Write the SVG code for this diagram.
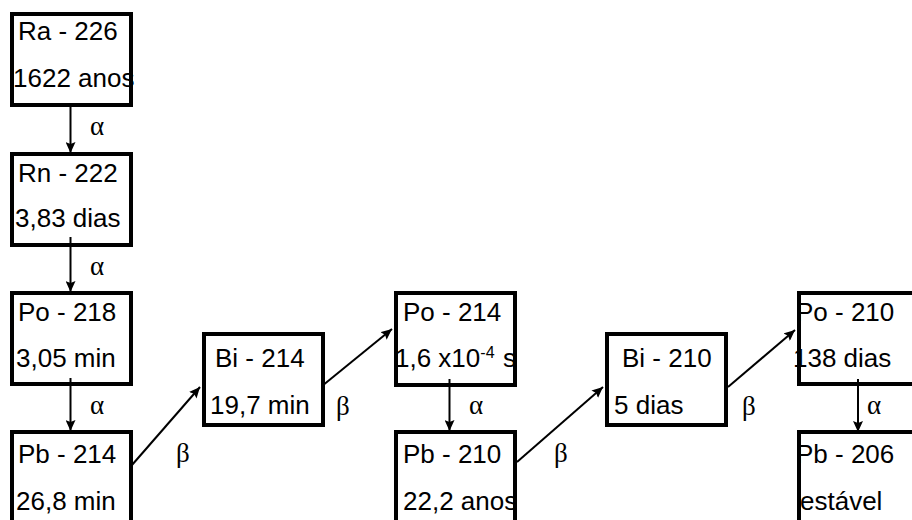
<svg xmlns="http://www.w3.org/2000/svg" width="912" height="520" viewBox="0 0 912 520">
  <style>
    .bg { fill: #fff; stroke: none; }
    .frame { fill: none; stroke: #000; stroke-width: 4; }
    .lbl { font-family: "Liberation Sans", Arial, sans-serif; font-size: 26px; fill: #000; }
    .greek { font-family: "Liberation Serif", "Times New Roman", serif; font-size: 27px; fill: #000; }
    .conn { stroke: #000; stroke-width: 2; fill: none; marker-end: url(#arrow); }
  </style>
  <defs>
    <marker id="arrow" markerUnits="userSpaceOnUse" markerWidth="12" markerHeight="10" refX="11" refY="5" orient="auto">
      <path d="M0,0 L11,5 L0,10 L2,5 z" fill="#000"/>
    </marker>
  </defs>
  <rect width="912" height="520" fill="#fff"/>

  <!-- decay chain nodes -->
  <g id="ra226">
    <rect class="bg" x="12" y="14" width="119" height="91"/>
    <text class="lbl" x="18" y="40">Ra - 226</text>
    <text class="lbl" x="13" y="87">1622 anos</text>
    <rect class="frame" x="12" y="14" width="119" height="91"/>
  </g>
  <g id="rn222">
    <rect class="bg" x="12" y="154" width="119" height="91"/>
    <text class="lbl" x="18" y="182">Rn - 222</text>
    <text class="lbl" x="15" y="227">3,83 dias</text>
    <rect class="frame" x="12" y="154" width="119" height="91"/>
  </g>
  <g id="po218">
    <rect class="bg" x="12" y="293" width="119" height="91"/>
    <text class="lbl" x="18" y="321">Po - 218</text>
    <text class="lbl" x="16" y="367">3,05 min</text>
    <rect class="frame" x="12" y="293" width="119" height="91"/>
  </g>
  <g id="pb214">
    <rect class="bg" x="12" y="432" width="119" height="100"/>
    <text class="lbl" x="18" y="463">Pb - 214</text>
    <text class="lbl" x="16" y="510">26,8 min</text>
    <rect class="frame" x="12" y="432" width="119" height="100"/>
  </g>
  <g id="bi214">
    <rect class="bg" x="204" y="334" width="119" height="91"/>
    <text class="lbl" x="215" y="367">Bi - 214</text>
    <text class="lbl" x="210" y="414">19,7 min</text>
    <rect class="frame" x="204" y="334" width="119" height="91"/>
  </g>
  <g id="po214">
    <rect class="bg" x="396" y="293" width="119" height="92"/>
    <text class="lbl" x="403" y="321">Po - 214</text>
    <text class="lbl" x="395" y="367">1,6 x10<tspan font-size="16" dy="-9">-4</tspan><tspan x="503" dy="9">s</tspan></text>
    <rect class="frame" x="396" y="293" width="119" height="92"/>
  </g>
  <g id="pb210">
    <rect class="bg" x="396" y="432" width="119" height="100"/>
    <text class="lbl" x="403" y="463">Pb - 210</text>
    <text class="lbl" x="403" y="510">22,2 anos</text>
    <rect class="frame" x="396" y="432" width="119" height="100"/>
  </g>
  <g id="bi210">
    <rect class="bg" x="607" y="334" width="119" height="91"/>
    <text class="lbl" x="622" y="367">Bi - 210</text>
    <text class="lbl" x="614" y="414">5 dias</text>
    <rect class="frame" x="607" y="334" width="119" height="91"/>
  </g>
  <g id="po210">
    <rect class="bg" x="799" y="293" width="200" height="91"/>
    <text class="lbl" x="796" y="321">Po - 210</text>
    <text class="lbl" x="793" y="367">138 dias</text>
    <rect class="frame" x="799" y="293" width="200" height="91"/>
  </g>
  <g id="pb206">
    <rect class="bg" x="799" y="432" width="200" height="100"/>
    <text class="lbl" x="796" y="463">Pb - 206</text>
    <text class="lbl" x="800" y="510">estável</text>
    <rect class="frame" x="799" y="432" width="200" height="100"/>
  </g>

  <!-- decays -->
  <g id="connectors">
    <line class="conn" x1="70.5" y1="107" x2="70.5" y2="153"/>
    <line class="conn" x1="70.5" y1="237" x2="70.5" y2="292"/>
    <line class="conn" x1="70.5" y1="378" x2="70.5" y2="431"/>
    <line class="conn" x1="449.5" y1="379" x2="449.5" y2="431"/>
    <line class="conn" x1="858" y1="379" x2="858" y2="432"/>
    <line class="conn" x1="132" y1="465" x2="200" y2="387"/>
    <line class="conn" x1="322" y1="386" x2="392" y2="329"/>
    <line class="conn" x1="517" y1="462" x2="603" y2="387"/>
    <line class="conn" x1="728" y1="387" x2="795" y2="330"/>
    <text class="greek" x="90" y="135">α</text>
    <text class="greek" x="90" y="275">α</text>
    <text class="greek" x="90" y="414">α</text>
    <text class="greek" x="469" y="414">α</text>
    <text class="greek" x="867" y="414">α</text>
    <text class="greek" x="176" y="462">β</text>
    <text class="greek" x="336" y="415">β</text>
    <text class="greek" x="554" y="462">β</text>
    <text class="greek" x="742" y="415">β</text>
  </g>
</svg>
